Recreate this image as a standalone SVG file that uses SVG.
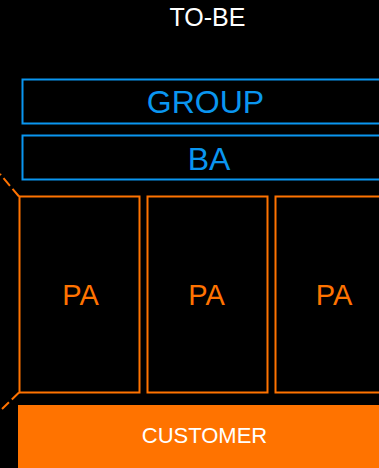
<svg xmlns="http://www.w3.org/2000/svg" width="379" height="468" viewBox="0 0 379 468">
  <style>
    text { font-family: "Liberation Sans", Arial, sans-serif; text-anchor: middle; }
    .blue { fill: none; stroke: #0A96F0; stroke-width: 2; }
    .blue-t { fill: #0A96F0; font-size: 32px; }
    .pa { fill: none; stroke: #FF7300; stroke-width: 2; }
    .pa-t { fill: #FF7300; font-size: 29px; }
    .dash { stroke: #FF7300; stroke-width: 2; stroke-dasharray: 10 4; fill: none; }
  </style>
  <rect x="0" y="0" width="379" height="468" fill="#000"/>

  <text x="207.5" y="26" fill="#fff" style="font-size:25px">TO-BE</text>

  <g id="connectors">
    <path class="dash" d="M19 196.5 L0 174"/>
    <path class="dash" d="M19 392.5 L2 409"/>
  </g>

  <g id="group">
    <rect class="blue" x="22.5" y="79.5" width="367" height="44"/>
    <text class="blue-t" x="205.5" y="113">GROUP</text>
  </g>
  <g id="ba">
    <rect class="blue" x="22.5" y="135.5" width="367" height="44"/>
    <text class="blue-t" x="209" y="170">BA</text>
  </g>

  <g id="pa1">
    <rect class="pa" x="19.5" y="196.5" width="120" height="196"/>
    <text class="pa-t" x="80.5" y="305">PA</text>
  </g>
  <g id="pa2">
    <rect class="pa" x="147.5" y="196.5" width="120" height="196"/>
    <text class="pa-t" x="206.5" y="305">PA</text>
  </g>
  <g id="pa3">
    <rect class="pa" x="275.5" y="196.5" width="120" height="196"/>
    <text class="pa-t" x="334" y="305">PA</text>
  </g>

  <g id="customer">
    <rect x="18" y="405" width="373" height="63" fill="#FF7300"/>
    <text x="204.5" y="443" fill="#fff" style="font-size:22px">CUSTOMER</text>
  </g>
</svg>
